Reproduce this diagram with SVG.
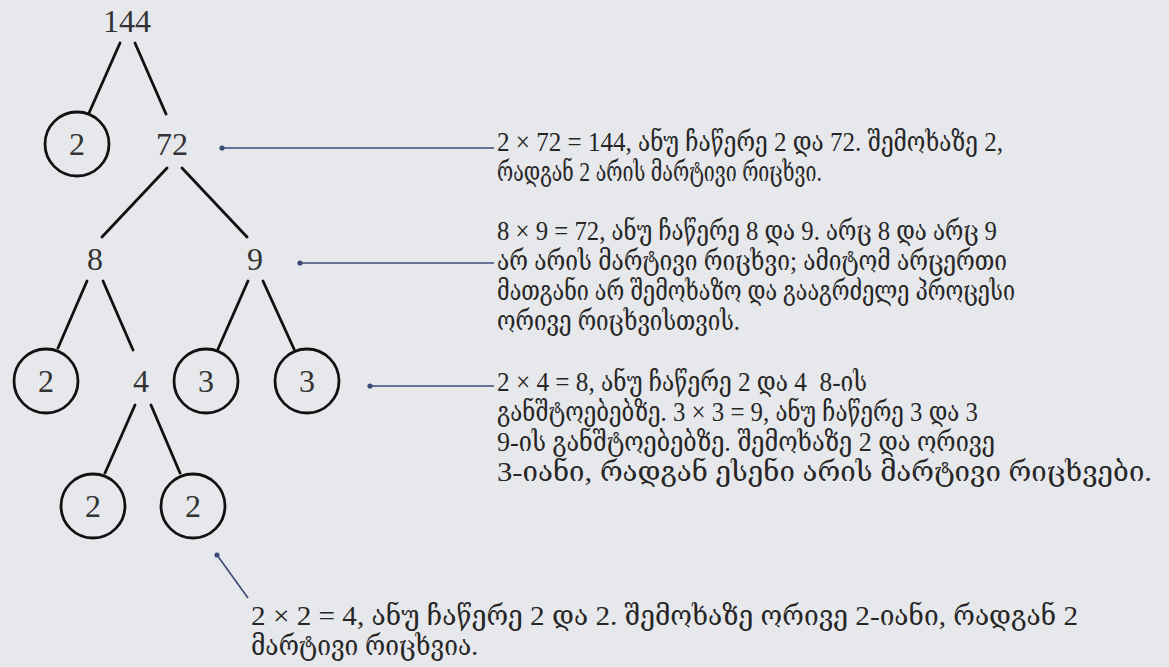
<svg xmlns="http://www.w3.org/2000/svg" width="1169" height="667" viewBox="0 0 1169 667">
<style>
.num{font-family:"Liberation Serif","DejaVu Serif",serif;font-size:32px;fill:#333;text-anchor:middle}
.txt{font-family:"Liberation Serif","DejaVu Serif Condensed","DejaVu Serif",serif;font-size:28px;fill:#262626}
.br{stroke:#111;stroke-width:2.8;fill:none;stroke-linecap:round}
.cir{stroke:#111;stroke-width:2.8;fill:none}
.con{stroke:#3c4a78;stroke-width:1.6;fill:none}
.dot{fill:#3c4a78}
</style>
<rect width="1169" height="667" fill="#e6e8eb"/>
<g id="branches">
<path class="br" d="M120,43 L89,113 M135,43 L166,114 M167,168 L102,237 M182,168 L247,237 M87,281 L58,348 M103,281 L133,350 M248,281 L218,349 M263,281 L294,349 M135,405 L105,473 M151,405 L180,473"/>
</g>
<g id="n144"><text class="num" x="127" y="32">144</text></g>
<g id="n2a"><circle class="cir" cx="77" cy="144" r="32"/><text class="num" x="77" y="155">2</text></g>
<g id="n72"><text class="num" x="172" y="155">72</text></g>
<g id="n8"><text class="num" x="95" y="270">8</text></g>
<g id="n9"><text class="num" x="255" y="270">9</text></g>
<g id="n2b"><circle class="cir" cx="46" cy="381" r="32"/><text class="num" x="46" y="392">2</text></g>
<g id="n4"><text class="num" x="141" y="392">4</text></g>
<g id="n3a"><circle class="cir" cx="206" cy="381" r="32"/><text class="num" x="206" y="392">3</text></g>
<g id="n3b"><circle class="cir" cx="307" cy="381" r="32"/><text class="num" x="307" y="392">3</text></g>
<g id="n2c"><circle class="cir" cx="93" cy="506" r="32"/><text class="num" x="93" y="517">2</text></g>
<g id="n2d"><circle class="cir" cx="193" cy="506" r="32"/><text class="num" x="193" y="517">2</text></g>
<g id="connectors">
<line class="con" x1="222" y1="148" x2="494" y2="148"/><circle class="dot" cx="222" cy="148" r="2.6"/>
<line class="con" x1="300" y1="263" x2="494" y2="263"/><circle class="dot" cx="300" cy="263" r="2.6"/>
<line class="con" x1="370" y1="386" x2="494" y2="386"/><circle class="dot" cx="370" cy="386" r="2.6"/>
<line class="con" x1="217" y1="555" x2="248" y2="598"/><circle class="dot" cx="217" cy="555" r="2.6"/>
</g>
<g id="note1">
<text class="txt" x="497" y="151" textLength="506" lengthAdjust="spacingAndGlyphs">2 × 72 = 144, ანუ ჩაწერე 2 და 72. შემოხაზე 2,</text>
<text class="txt" x="497" y="181" textLength="325" lengthAdjust="spacingAndGlyphs">რადგან 2 არის მარტივი რიცხვი.</text>
</g>
<g id="note2">
<text class="txt" x="497" y="240" textLength="500" lengthAdjust="spacingAndGlyphs">8 × 9 = 72, ანუ ჩაწერე 8 და 9. არც 8 და არც 9</text>
<text class="txt" x="497" y="270" textLength="510" lengthAdjust="spacingAndGlyphs">არ არის მარტივი რიცხვი; ამიტომ არცერთი</text>
<text class="txt" x="497" y="300" textLength="518" lengthAdjust="spacingAndGlyphs">მათგანი არ შემოხაზო და გააგრძელე პროცესი</text>
<text class="txt" x="497" y="330" textLength="243" lengthAdjust="spacingAndGlyphs">ორივე რიცხვისთვის.</text>
</g>
<g id="note3">
<text class="txt" x="497" y="391" textLength="370" lengthAdjust="spacingAndGlyphs" style="white-space:pre">2 × 4 = 8, ანუ ჩაწერე 2 და 4  8-ის</text>
<text class="txt" x="497" y="421" textLength="481" lengthAdjust="spacingAndGlyphs">განშტოებებზე. 3 × 3 = 9, ანუ ჩაწერე 3 და 3</text>
<text class="txt" x="497" y="451" textLength="498" lengthAdjust="spacingAndGlyphs">9-ის განშტოებებზე. შემოხაზე 2 და ორივე</text>
<text class="txt" x="497" y="481" textLength="655" lengthAdjust="spacingAndGlyphs">3-იანი, რადგან ესენი არის მარტივი რიცხვები.</text>
</g>
<g id="note4">
<text class="txt" x="251" y="625" textLength="827" lengthAdjust="spacingAndGlyphs">2 × 2 = 4, ანუ ჩაწერე 2 და 2. შემოხაზე ორივე 2-იანი, რადგან 2</text>
<text class="txt" x="251" y="655" textLength="227" lengthAdjust="spacingAndGlyphs">მარტივი რიცხვია.</text>
</g>
</svg>
